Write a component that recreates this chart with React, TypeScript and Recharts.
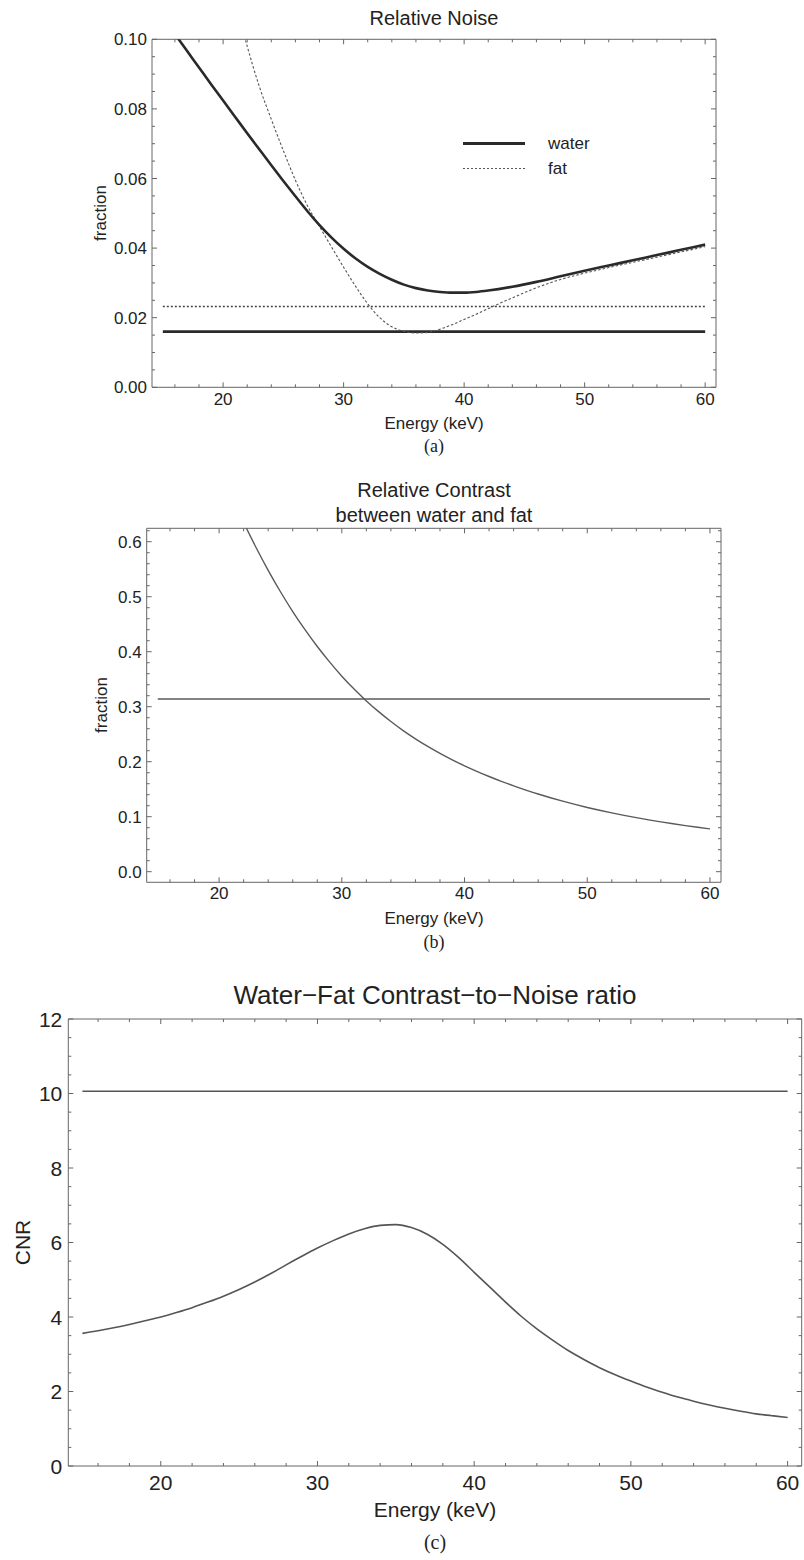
import React from 'react';
import { LineChart, Line, XAxis, YAxis, ReferenceArea, Legend } from 'recharts';

// ---------- data: panel (a) Relative Noise ----------
const waterEnergy = [15, 16, 17, 18, 19, 20, 21, 22, 23, 24, 25, 26, 27, 28, 29, 30, 31, 32, 33, 34, 35, 36, 37, 38, 39, 40, 41, 42, 44, 46, 48, 50, 52, 54, 56, 58, 60];
const waterNoise = [0.1063, 0.1015, 0.0967, 0.0919, 0.0871, 0.0824, 0.0777, 0.073, 0.0684, 0.0638, 0.0593, 0.0549, 0.0506, 0.0466, 0.043, 0.0398, 0.037, 0.0346, 0.0326, 0.0309, 0.0295, 0.0285, 0.0278, 0.0274, 0.0272, 0.0272, 0.0274, 0.0278, 0.0289, 0.0303, 0.0319, 0.0335, 0.035, 0.0365, 0.038, 0.0395, 0.041];
const fatEnergy = [21, 22, 23, 24, 25, 26, 27, 28, 29, 30, 31, 32, 33, 34, 35, 36, 37, 38, 39, 40, 41, 42, 43, 44, 45, 46, 48, 50, 52, 54, 56, 58, 60];
const fatNoise = [0.111, 0.098, 0.0865, 0.077, 0.068, 0.0595, 0.0522, 0.0462, 0.0403, 0.0345, 0.029, 0.024, 0.02, 0.0174, 0.0161, 0.0156, 0.0158, 0.0167, 0.018, 0.0195, 0.021, 0.0226, 0.0242, 0.0257, 0.0272, 0.0286, 0.031, 0.0328, 0.0344, 0.0359, 0.0374, 0.0389, 0.0404];
const floorEnergy = [15, 60];
const waterFloor = 0.016;
const fatFloor = 0.0232;
const noiseXLabels = [20, 30, 40, 50, 60];
const noiseYLabels = [0, 0.02, 0.04, 0.06, 0.08, 0.1];
const legendOrder = ['water', 'fat'];

// ---------- data: panel (b) Relative Contrast ----------
const contrastEnergy = [22, 23, 24, 25, 26, 27, 28, 29, 30, 31, 32, 33, 34, 35, 36, 37, 38, 39, 40, 41, 42, 43, 44, 45, 46, 47, 48, 49, 50, 51, 52, 53, 54, 55, 56, 57, 58, 59, 60];
const contrastValues = [0.635, 0.59, 0.548, 0.509, 0.473, 0.44, 0.4095, 0.3815, 0.3555, 0.332, 0.3105, 0.291, 0.273, 0.2565, 0.2415, 0.2277, 0.215, 0.2033, 0.1925, 0.1825, 0.1731, 0.1643, 0.1561, 0.1484, 0.1412, 0.1345, 0.1282, 0.1223, 0.1168, 0.1117, 0.1069, 0.1024, 0.0982, 0.0943, 0.0906, 0.0871, 0.0838, 0.0807, 0.0778];
const contrastRef = 0.314;
const contrastXLabels = [20, 30, 40, 50, 60];
const contrastYLabels = [0, 0.1, 0.2, 0.3, 0.4, 0.5, 0.6];

// ---------- data: panel (c) CNR ----------
const cnrEnergy = [15, 16, 17, 18, 19, 20, 21, 22, 23, 24, 25, 26, 27, 28, 29, 30, 31, 32, 33, 34, 35, 36, 37, 38, 39, 40, 41, 42, 43, 44, 45, 46, 47, 48, 49, 50, 51, 52, 53, 54, 55, 56, 57, 58, 59, 60];
const cnrValues = [3.56, 3.63, 3.71, 3.8, 3.9, 4.0, 4.12, 4.25, 4.4, 4.56, 4.74, 4.94, 5.16, 5.4, 5.63, 5.85, 6.05, 6.23, 6.37, 6.46, 6.48, 6.4, 6.22, 5.95, 5.6, 5.2, 4.8, 4.4, 4.02, 3.68, 3.38, 3.1, 2.86, 2.64, 2.45, 2.28, 2.12, 1.98, 1.85, 1.74, 1.64, 1.55, 1.47, 1.4, 1.35, 1.3];
const cnrRef = 10.06;
const cnrXLabels = [20, 30, 40, 50, 60];
const cnrYLabels = [0, 2, 4, 6, 8, 10, 12];

// ---------- build series ----------
const toPoints = (xs: number[], ys: number[]) => xs.map((x, i) => ({ x, y: ys[i] }));
const flat = (xs: number[], v: number) => xs.map((x) => ({ x, y: v }));
const waterData = toPoints(waterEnergy, waterNoise);
const fatData = toPoints(fatEnergy, fatNoise);
const waterFloorData = flat(floorEnergy, waterFloor);
const fatFloorData = flat(floorEnergy, fatFloor);
const contrastData = toPoints(contrastEnergy, contrastValues);
const contrastRefData = flat(floorEnergy, contrastRef);
const cnrData = toPoints(cnrEnergy, cnrValues);
const cnrRefData = flat(floorEnergy, cnrRef);

// ---------- styling ----------
const FONT = '"Liberation Sans", Arial, Helvetica, sans-serif';
const SERIF = '"Liberation Serif", "Times New Roman", serif';
const FRAME = '#666';
const TEXT = '#222';
const X_DOMAIN: [number, number] = [14.1, 60.9];

const steps = (lo: number, hi: number, step: number) => {
  const out: number[] = [];
  const n = Math.round((hi - lo) / step);
  for (let i = 0; i <= n; i++) out.push(+(lo + i * step).toFixed(6));
  return out;
};
const isIn = (arr: number[], v: number) => arr.some((m) => Math.abs(m - v) < 1e-7);

const makeXTick = (majors: number[], plotH: number, fs: number, gap: number) => (props: any) => {
  const { x, y, payload } = props;
  const v = payload.value;
  const major = isIn(majors, v);
  const len = major ? 5 : 3;
  return (
    <g>
      <line x1={x} y1={y} x2={x} y2={y - len} stroke={FRAME} strokeWidth={1} />
      <line x1={x} y1={y - plotH} x2={x} y2={y - plotH + len} stroke={FRAME} strokeWidth={1} />
      {major && (
        <text x={x} y={y + gap} dy="0.71em" textAnchor="middle" fontSize={fs} fontFamily={FONT} fill={TEXT}>
          {String(v)}
        </text>
      )}
    </g>
  );
};

const makeYTick = (majors: number[], plotW: number, fs: number, gap: number, fmt: (v: number) => string) => (props: any) => {
  const { x, y, payload } = props;
  const v = payload.value;
  const major = isIn(majors, v);
  const len = major ? 5 : 3;
  return (
    <g>
      <line x1={x} y1={y} x2={x + len} y2={y} stroke={FRAME} strokeWidth={1} />
      <line x1={x + plotW} y1={y} x2={x + plotW - len} y2={y} stroke={FRAME} strokeWidth={1} />
      {major && (
        <text x={x - gap} y={y} dy="0.36em" textAnchor="end" fontSize={fs} fontFamily={FONT} fill={TEXT}>
          {fmt(v)}
        </text>
      )}
    </g>
  );
};

const legendStyle: Record<string, { w: number; dash?: string; color: string }> = {
  water: { w: 3, color: '#2a2a2a' },
  fat: { w: 1.2, dash: '2 2', color: '#555' },
};

const renderNoiseLegend = (props: any) => {
  const items = (props.payload || [])
    .filter((p: any) => legendStyle[p.value])
    .sort((a: any, b: any) => legendOrder.indexOf(a.value) - legendOrder.indexOf(b.value));
  return (
    <div style={{ fontFamily: FONT, fontSize: 17, color: TEXT }}>
      {items.map((p: any) => {
        const s = legendStyle[p.value];
        return (
          <div key={p.value} style={{ display: 'flex', alignItems: 'center', height: 25 }}>
            <svg width={62} height={25} style={{ display: 'block' }}>
              <line x1={0} y1={12.5} x2={62} y2={12.5} stroke={s.color} strokeWidth={s.w} strokeDasharray={s.dash} />
            </svg>
            <span style={{ marginLeft: 23, lineHeight: '25px' }}>{p.value}</span>
          </div>
        );
      })}
    </div>
  );
};

const axisCommon = {
  type: 'number' as const,
  tickLine: false,
  axisLine: false,
  tickSize: 0,
  tickMargin: 0,
  interval: 0 as const,
  allowDataOverflow: true,
};

export default function App() {
  const aW = 564, aH = 348;
  const bW = 574.3, bH = 354;
  const cW = 733.4, cH = 447;
  const bDomain: [number, number] = [-0.0193, 0.6244];

  return (
    <div style={{ position: 'absolute', left: 0, top: 0, width: 804, height: 1560, background: '#fff' }}>
      {/* Panel (a) */}
      <div style={{ position: 'absolute', left: 0, top: 0 }}>
        <LineChart width={804} height={470} margin={{ top: 39.3, right: 88, bottom: 52.7, left: 92 }}>
          <XAxis dataKey="x" {...axisCommon} domain={X_DOMAIN} height={30} ticks={steps(16, 60, 2)} tick={makeXTick(noiseXLabels, aH, 17, 6)} />
          <YAxis {...axisCommon} domain={[0, 0.1]} width={60} ticks={steps(0, 0.1, 0.005)} tick={makeYTick(noiseYLabels, aW, 17, 5, (v) => v.toFixed(2))} />
          <ReferenceArea x1={X_DOMAIN[0]} x2={X_DOMAIN[1]} y1={0} y2={0.1} fill="none" stroke={FRAME} strokeWidth={1} ifOverflow="visible" />
          <Line data={fatFloorData} dataKey="y" type="linear" stroke="#444" strokeWidth={1.4} strokeDasharray="2 2" dot={false} isAnimationActive={false} legendType="none" />
          <Line data={waterFloorData} dataKey="y" type="linear" stroke="#2a2a2a" strokeWidth={2.6} dot={false} isAnimationActive={false} legendType="none" />
          <Line data={fatData} dataKey="y" name="fat" type="monotone" stroke="#555" strokeWidth={1.1} strokeDasharray="2.5 2" dot={false} isAnimationActive={false} />
          <Line data={waterData} dataKey="y" name="water" type="monotone" stroke="#2a2a2a" strokeWidth={2.6} dot={false} isAnimationActive={false} />
          <Legend layout="vertical" align="center" verticalAlign="middle" content={renderNoiseLegend}
            wrapperStyle={{ position: 'absolute', left: 463, top: 131, width: 160, height: 50 }} />
        </LineChart>
      </div>

      {/* Panel (b) */}
      <div style={{ position: 'absolute', left: 0, top: 470 }}>
        <LineChart width={804} height={480} margin={{ top: 58.3, right: 83, bottom: 37.7, left: 86.7 }}>
          <XAxis dataKey="x" {...axisCommon} domain={X_DOMAIN} height={30} ticks={steps(16, 60, 2)} tick={makeXTick(contrastXLabels, bH, 17, 5)} />
          <YAxis {...axisCommon} domain={bDomain} width={60} ticks={steps(0, 0.62, 0.02)} tick={makeYTick(contrastYLabels, bW, 17, 5, (v) => v.toFixed(1))} />
          <ReferenceArea x1={X_DOMAIN[0]} x2={X_DOMAIN[1]} y1={bDomain[0]} y2={bDomain[1]} fill="none" stroke={FRAME} strokeWidth={1} ifOverflow="visible" />
          <Line data={contrastRefData} dataKey="y" type="linear" stroke="#5a5a5a" strokeWidth={1.5} dot={false} isAnimationActive={false} legendType="none" />
          <Line data={contrastData} dataKey="y" type="monotone" stroke="#5a5a5a" strokeWidth={1.4} dot={false} isAnimationActive={false} legendType="none" />
        </LineChart>
      </div>

      {/* Panel (c) */}
      <div style={{ position: 'absolute', left: 0, top: 950 }}>
        <LineChart width={804} height={610} margin={{ top: 69, right: 2.3, bottom: 64, left: 18.3 }}>
          <XAxis dataKey="x" {...axisCommon} domain={X_DOMAIN} height={30} ticks={steps(16, 60, 2)} tick={makeXTick(cnrXLabels, cH, 21, 9)} />
          <YAxis {...axisCommon} domain={[0, 12]} width={50} ticks={steps(0, 12, 0.5)} tick={makeYTick(cnrYLabels, cW, 21, 6, (v) => String(v))} />
          <ReferenceArea x1={X_DOMAIN[0]} x2={X_DOMAIN[1]} y1={0} y2={12} fill="none" stroke={FRAME} strokeWidth={1} ifOverflow="visible" />
          <Line data={cnrRefData} dataKey="y" type="linear" stroke="#555" strokeWidth={1.6} dot={false} isAnimationActive={false} legendType="none" />
          <Line data={cnrData} dataKey="y" type="monotone" stroke="#555" strokeWidth={1.6} dot={false} isAnimationActive={false} legendType="none" />
        </LineChart>
      </div>

      {/* Titles, axis labels, captions */}
      <svg width={804} height={1560} style={{ position: 'absolute', left: 0, top: 0, pointerEvents: 'none' }}>
        <g fontFamily={FONT} fill={TEXT}>
          <text x={434} y={25} fontSize={20} textAnchor="middle">Relative Noise</text>
          <text x={100} y={213} fontSize={17} textAnchor="middle" dy="0.35em" transform="rotate(-90 100 213)">fraction</text>
          <text x={434} y={429} fontSize={17} textAnchor="middle">Energy (keV)</text>

          <text x={434} y={497} fontSize={20} textAnchor="middle">Relative Contrast</text>
          <text x={434} y={522} fontSize={20} textAnchor="middle">between water and fat</text>
          <text x={101.5} y={705} fontSize={17} textAnchor="middle" dy="0.35em" transform="rotate(-90 101.5 705)">fraction</text>
          <text x={434} y={924} fontSize={17} textAnchor="middle">Energy (keV)</text>

          <text x={435} y={1004} fontSize={26} textAnchor="middle">Water−Fat Contrast−to−Noise ratio</text>
          <text x={23} y={1242.5} fontSize={21} textAnchor="middle" dy="0.35em" transform="rotate(-90 23 1242.5)">CNR</text>
          <text x={435} y={1517} fontSize={21} textAnchor="middle">Energy (keV)</text>
        </g>
        <g fontFamily={SERIF} fill={TEXT}>
          <text x={434} y={452} fontSize={18} textAnchor="middle">(a)</text>
          <text x={434} y={948} fontSize={18} textAnchor="middle">(b)</text>
          <text x={435} y={1549} fontSize={20} textAnchor="middle">(c)</text>
        </g>
      </svg>
    </div>
  );
}
